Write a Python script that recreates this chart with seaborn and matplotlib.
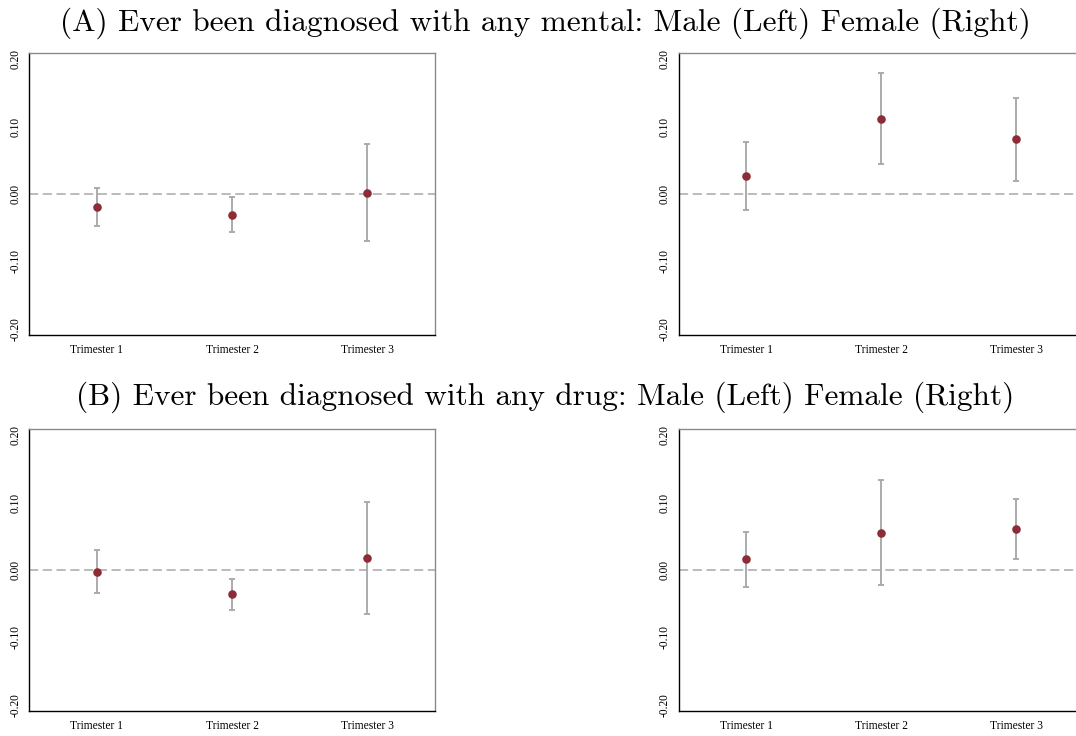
import numpy as np
import pandas as pd
import seaborn as sbn
import matplotlib.pyplot as plt

sbn.set_theme(style="white")
plt.rcParams["font.family"] = ["Liberation Serif", "DejaVu Serif"]
plt.rcParams["axes.unicode_minus"] = False
plt.rcParams["text.color"] = "black"

# 1 - Data
trimesters = ["Trimester 1", "Trimester 2", "Trimester 3"]
yticks = [-0.20, -0.10, 0.00, 0.10, 0.20]

mental_male = [-0.019, -0.031, 0.002]
mental_male_lo = [-0.047, -0.057, -0.070]
mental_male_hi = [0.009, -0.005, 0.074]

mental_female = [0.026, 0.112, 0.082]
mental_female_lo = [-0.024, 0.045, 0.020]
mental_female_hi = [0.077, 0.179, 0.143]

drug_male = [-0.003, -0.036, 0.017]
drug_male_lo = [-0.034, -0.060, -0.066]
drug_male_hi = [0.029, -0.013, 0.100]

drug_female = [0.016, 0.055, 0.060]
drug_female_lo = [-0.025, -0.023, 0.016]
drug_female_hi = [0.056, 0.134, 0.105]

title_a = "(A) Ever been diagnosed with any mental: Male (Left) Female (Right)"
title_b = "(B) Ever been diagnosed with any drug: Male (Left) Female (Right)"

panels = [
    (mental_male, mental_male_lo, mental_male_hi),
    (mental_female, mental_female_lo, mental_female_hi),
    (drug_male, drug_male_lo, drug_male_hi),
    (drug_female, drug_female_lo, drug_female_hi),
]

# 2 - Figure and axes positions (pixels / figure size)
W, H = 1076, 736
fig = plt.figure(figsize=(W / 100, H / 100), dpi=100)
boxes = [
    (29.3, 53.3, 405.7, 281.7),
    (678.7, 53.3, 405.3, 281.7),
    (29.3, 429.0, 405.7, 282.0),
    (678.7, 429.0, 405.3, 282.0),
]

point_color = "#8b2c36"
bar_color = "#ababab"

for (x0, y0, w, h), (est, lo, hi) in zip(boxes, panels):
    ax = fig.add_axes([x0 / W, 1 - (y0 + h) / H, w / W, h / H])
    df = pd.DataFrame({"x": np.arange(1, 4), "est": est, "lo": lo, "hi": hi})

    ax.axhline(0, color="#a8a8a8", lw=1.1, ls=(0, (6, 3)), zorder=1)
    ax.errorbar(df["x"], df["est"],
                yerr=[df["est"] - df["lo"], df["hi"] - df["est"]],
                fmt="none", ecolor=bar_color, elinewidth=1.4,
                capsize=2.4, capthick=1.4, zorder=2)
    sbn.scatterplot(data=df, x="x", y="est", ax=ax, color=point_color,
                    s=38, edgecolor=point_color, linewidth=0, zorder=3)

    ax.set_xlim(0.5, 3.5)
    ax.set_ylim(-0.2095, 0.209)
    ax.set_xticks([1, 2, 3])
    ax.set_xticklabels(trimesters)
    ax.set_yticks(yticks)
    ax.set_yticklabels([f"{t:.2f}" for t in yticks], rotation=90, va="center")
    ax.set_xlabel("")
    ax.set_ylabel("")
    ax.tick_params(axis="both", length=3.5, width=0.8, color="#8a8a8a",
                   labelsize=8.3, labelcolor="black", pad=2)
    ax.tick_params(axis="x", pad=3)

    ax.spines["left"].set_color("black")
    ax.spines["bottom"].set_color("black")
    ax.spines["top"].set_color("#8a8a8a")
    ax.spines["right"].set_color("#8a8a8a")
    for s in ax.spines.values():
        s.set_linewidth(1.0)
        s.set_visible(True)

fig.text(545 / W, 1 - 23 / H, title_a, ha="center", va="center",
         fontsize=22.5, family="cmr10", color="black")
fig.text(545 / W, 1 - 397 / H, title_b, ha="center", va="center",
         fontsize=22.5, family="cmr10", color="black")

fig.savefig("out.png", dpi=100)
